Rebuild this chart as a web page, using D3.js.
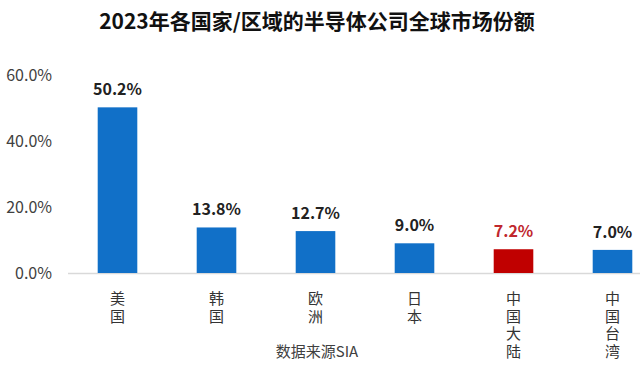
<!DOCTYPE html>
<html>
<head>
<meta charset="utf-8">
<script src="https://cdn.jsdelivr.net/npm/d3@7"></script>
<style>
  body { margin: 0; background: #fff; }
  text { font-family: "Noto Sans CJK SC", "Noto Sans", sans-serif; }
</style>
</head>
<body>
<svg id="chart" width="640" height="370"></svg>
<script>
var regions = ["美国", "韩国", "欧洲", "日本", "中国大陆", "中国台湾"];
var shares = [50.2, 13.8, 12.7, 9.0, 7.2, 7.0];
var yTicks = [0, 20, 40, 60];
var highlight = "中国大陆";

var width = 640,
    height = 370;

var svg = d3.select("#chart");

var x = d3.scaleBand()
    .domain(regions)
    .range([68, 662])
    .paddingInner(0.6)
    .paddingOuter(0.3);

var y = d3.scaleLinear()
    .domain([0, 60])
    .range([273, 75]);

// title
svg.append("text")
    .attr("x", 317)
    .attr("y", 29)
    .attr("text-anchor", "middle")
    .style("font-size", "21px")
    .style("font-weight", "bold")
    .style("fill", "#111")
    .text("2023年各国家/区域的半导体公司全球市场份额");

// y axis labels
var yAxis = d3.axisLeft(y)
    .tickValues(yTicks)
    .tickSize(0)
    .tickPadding(0)
    .tickFormat(function (d) { return d.toFixed(1) + "%"; });

svg.append("g")
    .attr("transform", "translate(52,0)")
    .call(yAxis)
    .call(function (g) { g.select(".domain").remove(); })
    .selectAll("text")
    .style("font-size", "16px")
    .style("fill", "#404040");

// baseline
svg.append("line")
    .attr("x1", 68)
    .attr("x2", 640)
    .attr("y1", y(0) + 0.5)
    .attr("y2", y(0) + 0.5)
    .style("stroke", "#d9d9d9")
    .style("stroke-width", 1.5);

// bars
var bars = svg.selectAll(".bar")
    .data(regions)
    .enter().append("g")
    .attr("class", "bar");

bars.append("rect")
    .attr("x", function (d) { return x(d); })
    .attr("y", function (d, i) { return y(shares[i]); })
    .attr("width", x.bandwidth())
    .attr("height", function (d, i) { return y(0) - y(shares[i]); })
    .style("fill", function (d) { return d == highlight ? "#C00000" : "#1170C8"; });

bars.append("text")
    .attr("x", function (d) { return x(d) + x.bandwidth() / 2; })
    .attr("y", function (d, i) { return y(shares[i]) - 12; })
    .attr("text-anchor", "middle")
    .style("font-size", "16px")
    .style("font-weight", "bold")
    .style("fill", function (d) { return d == highlight ? "#C0272D" : "#222"; })
    .text(function (d, i) { return shares[i].toFixed(1) + "%"; });

// vertical category labels
bars.append("text")
    .attr("x", function (d) { return x(d) + x.bandwidth() / 2; })
    .attr("y", 291)
    .style("writing-mode", "vertical-rl")
    .style("letter-spacing", "2.5px")
    .style("font-size", "15px")
    .style("fill", "#333")
    .text(function (d) { return d; });

// source
svg.append("text")
    .attr("x", 317)
    .attr("y", 357)
    .attr("text-anchor", "middle")
    .style("font-size", "15px")
    .style("fill", "#404040")
    .text("数据来源SIA");
</script>
</body>
</html>
